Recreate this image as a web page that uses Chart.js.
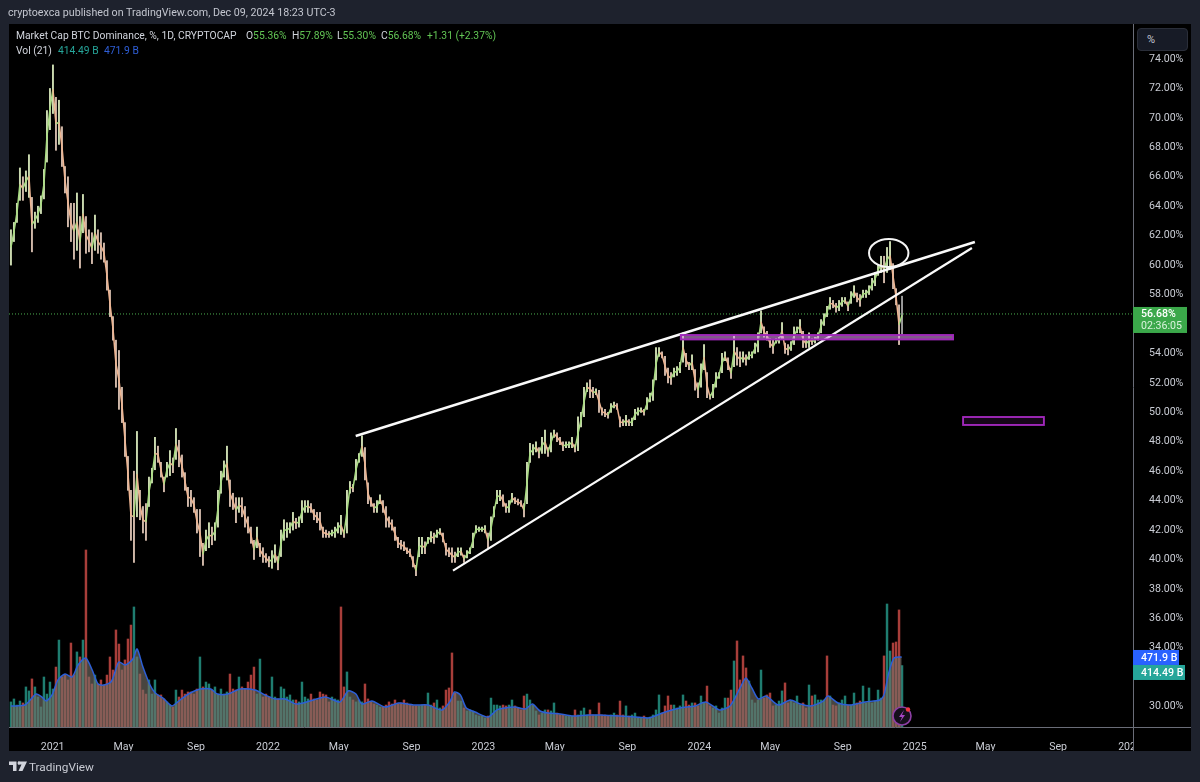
<!DOCTYPE html>
<html>
<head>
<meta charset="utf-8">
<title>BTC Dominance</title>
<script src="https://cdn.jsdelivr.net/npm/chart.js@4/dist/chart.umd.min.js"></script>
<style>
html,body{margin:0;padding:0;background:#1e222d;overflow:hidden}
#wrap{position:relative;width:1200px;height:782px;font-family:Roboto,sans-serif}
canvas{position:absolute;left:0;top:0}
.t{position:absolute;white-space:nowrap;font-size:10.3px;line-height:14px;color:#d1d4dc}
.g{color:#62c554}
#pct{position:absolute;left:1137px;top:28px;width:49px;height:21px;background:#171b26;border:1px solid #2a2e39;border-radius:4px;color:#c5c8d2;font-size:11px;line-height:21px;text-indent:9px}
</style>
</head>
<body>
<div id="wrap">
<canvas id="dominanceChart" width="1200" height="782"></canvas>
<div class="t" style="left:8px;top:6px;font-size:10.7px;color:#c3c6cf">cryptoexca published on TradingView.com, Dec 09, 2024 18:23 UTC-3</div>
<div class="t" style="left:16px;top:29px">Market Cap BTC Dominance, %, 1D, CRYPTOCAP</div>
<div class="t" style="left:246px;top:29px">O<span class="g">55.36%</span></div>
<div class="t" style="left:292px;top:29px">H<span class="g">57.89%</span></div>
<div class="t" style="left:337px;top:29px">L<span class="g">55.30%</span></div>
<div class="t" style="left:381px;top:29px">C<span class="g">56.68%</span></div>
<div class="t g" style="left:427px;top:29px">+1.31 (+2.37%)</div>
<div class="t" style="left:16px;top:44px">Vol (21)</div>
<div class="t" style="left:58px;top:44px;color:#26a69a">414.49 B</div>
<div class="t" style="left:104px;top:44px;color:#2f5fd8">471.9 B</div>
<div id="pct">%</div>
<svg style="position:absolute;left:9px;top:761px" width="18" height="11" viewBox="0 0 36 22"><path fill="#d1d4dc" d="M0 1h15v19H8V8H0zM18 1h18l-9 19h-8l6-13h-7z"/><circle cx="20" cy="4" r="3" fill="#d1d4dc"/></svg>
<div class="t" style="left:29px;top:760px;font-size:11.8px;color:#c8cbd3">TradingView</div>
<svg style="position:absolute;left:890px;top:704px" width="24" height="24"><circle cx="12" cy="12" r="9" fill="#15101c" stroke="#8e3fa6" stroke-width="1.6"/><path d="M14 6l-5 7h3l-2 5 5-7h-3z" fill="#a544c4"/><circle cx="18" cy="5.5" r="2.2" fill="#f23645"/></svg>
</div>
<script>
// x axis is days counted from 1 Jan 2021
var xTickDays = [0,120,243,365,485,608,730,851,974,1096,1216,1339,1461,1581,1704,1826];
var xTickLabels = ["2021","May","Sep","2022","May","Sep","2023","May","Sep","2024","May","Sep","2025","May","Sep","2026"];
var priceTicks = [74,72,70,68,66,64,62,60,58,56,54,52,50,48,46,44,42,40,38,36,34,32,30];

// one sample roughly every 5 days
var candleStart = -70.7;
var candleStep = 5.085;
var candleHigh = [
62.4,62.9,64.2,66.6,66.0,66.4,67.5,64.6,63.6,64.0,
64.7,66.5,70.5,72.0,73.6,71.4,71.2,69.4,66.7,66.0,
64.2,64.2,64.9,63.3,64.8,63.3,62.4,62.2,63.4,62.4,
62.2,61.5,60.3,58.3,56.5,54.9,54.2,51.7,49.3,47.0,
44.7,46.0,48.7,44.7,43.6,43.8,45.6,46.2,48.3,47.7,
46.6,45.6,46.6,47.4,46.9,48.9,48.1,47.1,45.9,44.9,
44.7,44.2,43.4,43.4,41.1,42.0,42.5,42.2,42.5,44.7,
46.0,46.7,47.7,45.4,44.5,44.2,44.2,44.2,43.6,42.9,
42.2,41.3,42.2,41.1,40.8,40.4,40.2,40.6,41.0,40.2,
42.0,42.7,42.5,42.5,43.2,42.8,42.9,44.0,44.0,44.0,
43.8,43.4,43.2,43.2,42.2,42.0,41.9,42.0,42.2,42.5,
43.0,42.0,44.7,45.3,45.1,46.8,47.2,48.4,47.6,45.2,
44.2,43.8,44.0,44.4,44.0,43.6,42.9,42.7,42.2,41.5,
41.3,41.2,40.8,40.7,40.2,39.6,41.5,41.5,41.2,41.5,
41.9,41.8,42.0,42.1,41.8,41.1,40.8,40.8,40.5,40.8,
40.8,40.3,40.6,40.8,41.8,42.3,42.2,42.2,42.3,41.8,
42.9,43.6,44.7,44.7,44.4,43.8,44.0,44.5,44.2,44.1,
44.0,43.8,46.6,47.9,47.8,48.0,47.6,48.3,48.8,47.6,
48.6,48.8,48.6,48.3,48.0,48.0,48.0,48.3,47.8,49.7,
50.0,51.7,52.0,52.2,51.7,51.6,51.5,50.3,50.2,50.0,
50.6,50.7,50.6,49.7,49.5,49.8,49.5,49.6,50.2,50.3,
50.3,50.2,51.0,51.3,52.2,54.4,54.4,54.1,53.8,53.0,
52.7,53.0,53.1,53.4,55.4,54.0,53.4,53.9,52.9,52.0,
53.3,54.6,52.7,51.2,51.9,52.7,52.7,54.0,54.1,53.7,
53.0,55.2,54.4,54.1,54.1,53.9,54.1,54.1,54.7,55.4,
56.9,55.8,55.5,55.0,54.9,55.0,55.1,56.1,54.7,54.6,
54.8,55.8,55.8,56.3,55.5,54.9,55.4,55.0,55.1,55.4,
56.3,56.7,57.2,57.8,57.6,57.4,57.6,57.8,57.8,57.5,
58.2,58.6,58.1,58.0,58.3,58.3,58.6,59.1,59.5,60.0,
60.6,60.6,61.2,61.6,60.1,58.4,57.3,57.89];
var candleLow = [
60.0,61.6,62.9,64.4,64.4,65.0,64.6,60.9,62.5,62.9,
63.5,64.5,67.0,69.2,70.3,67.8,68.2,66.7,64.9,62.6,
61.6,60.4,61.0,59.8,62.2,60.8,60.9,60.1,61.0,60.8,
60.4,60.2,58.3,56.5,54.9,51.7,50.2,49.3,47.0,44.7,
41.3,39.8,42.9,42.7,41.8,41.3,43.6,45.2,46.1,46.6,
45.6,44.6,45.6,45.7,45.9,46.8,46.3,45.6,44.7,43.6,
43.6,43.2,41.8,40.2,39.6,40.6,40.8,41.0,41.3,42.2,
44.5,45.6,45.4,43.6,43.4,42.5,43.2,42.9,42.2,41.8,
41.1,40.0,40.8,40.2,39.8,39.8,39.5,39.4,39.8,39.3,
40.2,41.3,41.5,41.8,42.0,42.1,42.2,42.5,43.2,43.2,
43.2,42.7,42.5,42.0,41.5,41.5,41.5,41.6,41.5,41.8,
41.7,41.5,41.8,44.5,44.6,45.4,46.6,47.0,45.4,43.8,
43.6,43.2,43.2,43.8,43.2,42.2,42.2,42.0,41.3,40.8,
40.7,40.6,40.4,40.2,39.5,38.9,40.2,40.4,40.4,41.1,
41.2,41.1,41.5,41.7,41.2,40.3,40.2,39.8,39.8,40.2,
40.3,39.8,40.1,40.4,40.8,41.8,41.9,41.9,41.8,40.8,
41.3,42.9,43.8,44.0,43.6,43.2,43.2,43.9,43.8,43.7,
43.6,42.9,43.8,46.6,47.1,47.3,46.9,47.2,47.2,47.0,
47.3,48.3,48.0,47.8,47.4,47.6,47.6,47.6,47.3,47.4,
49.0,49.7,51.4,51.0,51.0,51.2,50.0,49.8,49.7,49.6,
50.0,50.3,50.2,49.0,49.1,49.1,49.1,49.1,49.5,49.8,
50.0,49.8,50.2,50.7,50.8,52.2,53.8,53.7,52.5,52.0,
51.9,52.4,52.5,52.7,53.4,53.1,52.9,52.9,51.5,51.0,
51.7,52.9,51.0,50.9,51.0,51.7,52.3,52.7,53.5,52.9,
52.3,53.1,53.2,53.1,53.4,53.2,53.6,53.7,54.0,54.1,
55.4,55.1,54.9,54.4,54.0,54.7,54.7,55.0,54.0,53.9,
54.2,54.6,55.4,55.4,54.4,54.4,54.4,54.6,54.7,54.9,
55.4,55.9,56.5,57.0,57.1,56.8,56.9,57.2,57.4,56.9,
57.4,57.8,57.5,57.2,57.8,57.8,58.0,58.3,58.6,59.3,
59.5,58.8,59.5,59.7,58.4,57.3,54.6,55.30];
// volume in billions, same sampling as the candles
var volumeValues = [
169,189,148,175,162,270,243,324,270,202,
135,337,222,303,256,404,586,337,350,317,
566,350,506,472,586,1193,337,290,350,290,
317,283,350,472,384,654,559,384,452,593,
687,809,472,357,249,222,317,222,317,216,
216,189,169,148,135,249,202,249,222,236,
236,222,256,472,270,303,290,249,270,222,
256,222,236,357,256,249,337,270,256,303,
350,404,222,458,202,222,202,337,202,189,
270,256,202,216,182,182,169,303,202,189,
222,189,182,236,222,216,169,202,189,182,
809,270,371,202,182,169,182,169,290,189,
169,155,148,135,135,148,169,155,182,155,
162,182,162,148,142,142,142,148,148,229,
148,162,182,128,142,249,263,499,229,175,
175,128,108,115,108,81,74,74,61,74,
195,148,148,142,148,142,148,182,142,128,
115,209,222,182,148,108,81,94,115,115,
108,162,94,81,81,74,74,74,115,81,
108,128,81,115,81,81,162,81,81,74,
81,94,81,175,81,142,74,81,94,61,
61,74,61,67,81,115,216,94,142,209,
148,148,128,142,216,175,148,162,162,142,
209,162,276,142,128,142,94,128,195,195,
249,445,580,317,479,398,310,182,162,182,
384,195,216,229,142,148,175,243,297,162,
175,162,209,148,162,128,283,209,216,182,
182,182,479,209,148,142,162,182,209,148,
148,229,162,175,276,162,263,162,175,249,
195,479,829,512,566,573,789,414];
// tall bars whose colour can be read clearly
var volumeRedBars = [25,110,147,242,244,272,296,294];
var volumeGreenBars = [41,63,83,292];
// 21 period volume average, points picked along the blue line
var volumeMaDays = [
-71,-61,-47,-38,-28,-18,-11,-1,9,21,33,43,56,67,77,87,100,112,123,136,143,153,165,174,187,
202,216,233,250,268,279,297,318,343,360,377,394,413,436,462,487,501,514,524,541,563,586,
589,614,636,660,674,681,691,701,716,738,753,767,784,801,813,826,840,860,880,908,928,962,987,1009,
1016,1038,1063,1089,1107,1130,1148,1165,1175,1185,1196,1209,1230,1250,1267,1284,1306,1314,1331,1351,1377,1402,1409,1417,1426,1439];
var volumeMaValues = [
142,142,148,182,222,202,175,216,317,357,337,418,465,384,290,283,310,438,418,458,526,404,283,229,195,
142,182,229,256,256,222,222,256,249,216,189,189,155,175,202,169,243,222,155,175,135,162,
162,148,148,115,175,236,216,128,101,67,115,128,135,121,155,108,94,88,74,81,81,74,67,61,
67,101,128,142,169,115,142,263,330,263,189,209,148,182,155,142,175,209,162,148,169,182,216,364,465,471.9];

var lastPrice = 56.68;
var lastVolume = 414.49;
var lastVolumeMa = 471.9;
var countdown = "02:36:05";

// hand drawn objects on the chart, in day / percent
var upperTrendDays = [513.6,1563];
var upperTrendValues = [48.39,61.57];
var lowerTrendDays = [678.5,1558];
var lowerTrendValues = [39.24,61.16];
var boxDays = [[1064.6,1526],[1543,1680]];
var boxValues = [[55.25,54.95],[49.68,49.14]];
var boxFills = ["rgba(214,150,226,0.6)","rgba(156,39,176,0.14)"];
var circleCentre = [1417,60.82];
var circleRadius = [33.4,0.95];

var xMin = -74, xMax = 1831;
var yMin = 28.62, yMax = 76.38;
var volMax = 4738;

function toPoints(xs, ys){
	var pts = [];
	for(var i = 0; i < xs.length; i++){
		pts.push({x: xs[i], y: ys[i]});
	}
	return pts;
}

var candleDays = [];
for(var i = 0; i < candleHigh.length; i++){
	candleDays.push(candleStart + i * candleStep);
}

function isUp(i){
	if(i === 0){ return true; }
	return candleHigh[i] + candleLow[i] >= candleHigh[i-1] + candleLow[i-1];
}

var candleData = [];
var volumeData = [];
var midData = [];
for(var j = 0; j < candleDays.length; j++){
	candleData.push({x: candleDays[j], y: [candleLow[j], candleHigh[j]]});
	volumeData.push({x: candleDays[j], y: volumeValues[j]});
	midData.push({x: candleDays[j], y: (candleLow[j] + candleHigh[j]) / 2});
}

var overlay = {
	id: "overlay",
	beforeDraw: function(chart){
		var c = chart.ctx, a = chart.chartArea;
		c.save();
		c.fillStyle = "#000";
		c.fillRect(a.left, a.top, 1191 - a.left, 751 - a.top);
		c.restore();
	},
	beforeDatasetsDraw: function(chart){
		// price column hides the last date label
		var c = chart.ctx, a = chart.chartArea;
		c.save();
		c.fillStyle = "#000";
		c.fillRect(a.right, a.top, 1191 - a.right, 751 - a.top);
		c.strokeStyle = "#6a6d78";
		c.lineWidth = 1;
		c.beginPath();
		c.moveTo(a.right + 0.5, a.top);
		c.lineTo(a.right + 0.5, 751);
		c.moveTo(a.left, a.bottom + 0.5);
		c.lineTo(1191, a.bottom + 0.5);
		c.stroke();
		c.restore();
	},
	afterDatasetsDraw: function(chart){
		var c = chart.ctx, sx = chart.scales.x, sy = chart.scales.y;
		c.save();
		for(var i = 0; i < boxDays.length; i++){
			var x0 = sx.getPixelForValue(boxDays[i][0]), x1 = sx.getPixelForValue(boxDays[i][1]);
			var y0 = sy.getPixelForValue(boxValues[i][0]), y1 = sy.getPixelForValue(boxValues[i][1]);
			c.fillStyle = boxFills[i];
			c.fillRect(x0, y0, x1 - x0, y1 - y0);
			c.strokeStyle = "#a028ba";
			c.lineWidth = 1.9;
			c.strokeRect(x0, y0, x1 - x0, y1 - y0);
		}
		var cx = sx.getPixelForValue(circleCentre[0]), cy = sy.getPixelForValue(circleCentre[1]);
		var rx = sx.getPixelForValue(circleCentre[0] + circleRadius[0]) - cx;
		var ry = cy - sy.getPixelForValue(circleCentre[1] + circleRadius[1]);
		c.strokeStyle = "#f5f5f5";
		c.lineWidth = 2;
		c.beginPath();
		c.ellipse(cx, cy, rx, ry, 0, 0, Math.PI * 2);
		c.stroke();
		c.restore();
	},
	afterDraw: function(chart){
		var c = chart.ctx, a = chart.chartArea, sy = chart.scales.y, sv = chart.scales.yVol;
		var left = a.right;
		var py = sy.getPixelForValue(lastPrice);
		c.save();
		c.textBaseline = "middle";
		c.fillStyle = "#3ba84a";
		c.fillRect(left, py - 7, 54, 26);
		c.fillStyle = "#fff";
		c.font = "500 10.6px Roboto";
		c.fillText(lastPrice.toFixed(2) + "%", left + 8, py + 0.5);
		c.fillStyle = "#d9f2dc";
		c.font = "10.6px Roboto";
		c.fillText(countdown, left + 8, py + 12.5);
		var vy = sv.getPixelForValue(lastVolumeMa);
		c.fillStyle = "#2962ff";
		c.fillRect(left, vy - 7, 46, 15);
		c.fillStyle = "#26a69a";
		c.fillRect(left, vy + 8, 52, 15);
		c.fillStyle = "#fff";
		c.font = "500 10.6px Roboto";
		c.fillText(lastVolumeMa + " B", left + 8, vy + 1);
		c.fillText(lastVolume + " B", left + 8, vy + 16);
		c.restore();
	}
};

function volumeColor(ctx){
	var i = ctx.dataIndex;
	if(volumeRedBars.indexOf(i) >= 0){ return "#a83e3a"; }
	if(volumeGreenBars.indexOf(i) >= 0){ return "#1f7d70"; }
	return isUp(i) ? "#1f7d70" : "#a83e3a";
}

var chart = new Chart(document.getElementById("dominanceChart").getContext("2d"), {
	type: "bar",
	data: {
		datasets: [
			{
				label: "Market Cap BTC Dominance",
				data: candleData,
				yAxisID: "y",
				order: 3,
				grouped: false,
				barThickness: 1.3,
				backgroundColor: function(ctx){
					if(ctx.dataIndex === candleHigh.length - 1){ return "#9c9c9c"; }
					return isUp(ctx.dataIndex) ? "#c9d8ae" : "#cfb7a8";
				}
			},
			{
				type: "line",
				label: "Close",
				data: midData,
				yAxisID: "y",
				order: 2,
				borderWidth: 1.5,
				pointRadius: 0,
				borderColor: "#a8dc82",
				segment: {
					borderColor: function(ctx){
						return isUp(ctx.p1DataIndex) ? "#a8dc82" : "#eeb592";
					}
				}
			},
			{
				label: "Vol",
				data: volumeData,
				yAxisID: "yVol",
				order: 6,
				grouped: false,
				barThickness: 1.8,
				backgroundColor: volumeColor
			},
			{
				type: "line",
				label: "Vol MA",
				data: toPoints(volumeMaDays, volumeMaValues),
				yAxisID: "yVol",
				order: 5,
				borderColor: "#2d5fd6",
				backgroundColor: "rgba(116,112,104,0.62)",
				fill: "origin",
				borderWidth: 1.5,
				pointRadius: 0,
				tension: 0.25
			},
			{
				type: "line",
				label: "Last price",
				data: toPoints([xMin, xMax], [lastPrice, lastPrice]),
				yAxisID: "y",
				order: 4,
				borderColor: "#4caf50",
				borderWidth: 1,
				borderDash: [1, 2],
				pointRadius: 0
			},
			{
				type: "line",
				label: "Upper trend",
				data: toPoints(upperTrendDays, upperTrendValues),
				yAxisID: "y",
				order: 1,
				borderColor: "#fafafa",
				borderWidth: 2.4,
				pointRadius: 0
			},
			{
				type: "line",
				label: "Lower trend",
				data: toPoints(lowerTrendDays, lowerTrendValues),
				yAxisID: "y",
				order: 1,
				borderColor: "#fafafa",
				borderWidth: 2.2,
				pointRadius: 0
			}
		]
	},
	options: {
		responsive: false,
		animation: false,
		layout: {padding: {left: 9, top: 24, right: 9, bottom: 31}},
		plugins: {legend: {display: false}, tooltip: {enabled: false}},
		scales: {
			x: {
				type: "linear",
				min: xMin,
				max: xMax,
				offset: false,
				grid: {display: false},
				border: {display: false},
				afterBuildTicks: function(axis){
					axis.ticks = xTickDays.map(function(d){ return {value: d}; });
				},
				afterFit: function(axis){ axis.height = 24; },
				ticks: {
					autoSkip: false,
					maxRotation: 0,
					padding: 6,
					color: "#c9ccd4",
					font: {family: "Roboto", size: 10.6},
					callback: function(value, index){ return xTickLabels[index]; }
				}
			},
			y: {
				position: "right",
				min: yMin,
				max: yMax,
				grid: {display: false},
				border: {display: false},
				afterBuildTicks: function(axis){
					axis.ticks = priceTicks.map(function(v){ return {value: v}; });
				},
				afterFit: function(axis){ axis.width = 58; },
				ticks: {
					z: 1,
					autoSkip: false,
					padding: 8,
					color: "#c9ccd4",
					font: {family: "Roboto", size: 10.6},
					callback: function(value){ return value.toFixed(2) + "%"; }
				}
			},
			yVol: {
				display: false,
				position: "right",
				min: 0,
				max: volMax
			}
		}
	},
	plugins: [overlay]
});
</script>
</body>
</html>
